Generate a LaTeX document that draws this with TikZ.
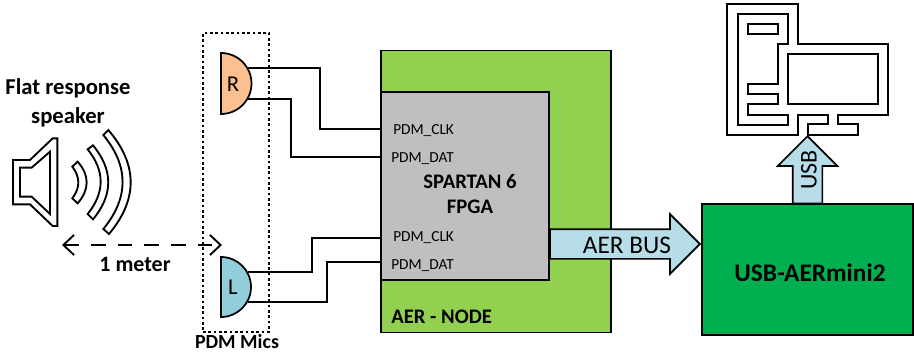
\documentclass[tikz,border=0pt]{standalone}
\usepackage{fontspec}
\setmainfont{Carlito}
\usetikzlibrary{arrows.meta, shapes.arrows}
\definecolor{nodegreen}{HTML}{92D050}
\definecolor{fpgagray}{HTML}{BFBFBF}
\definecolor{usbgreen}{HTML}{00B050}
\definecolor{busblue}{HTML}{B7DDE8}
\definecolor{micblue}{HTML}{92CDDC}
\definecolor{micorange}{HTML}{FAC090}
\tikzset{>={Straight Barb[length=8pt,width=15pt]}}
\tikzset{
  block/.style={draw, line width=1.3pt, inner sep=0pt},
  wire/.style={line width=1.1pt},
  icon/.style={line width=1.4pt, line join=miter},
  busarrow/.style={draw, line width=1.3pt, fill=busblue, single arrow, inner sep=0pt,
    single arrow head extend=11.25pt, single arrow tip angle=90, anchor=tip},
  boldtext/.style={font=\fontsize{16.5}{16.5}\selectfont\bfseries, inner sep=0pt},
  pintext/.style={font=\fontsize{11.5}{11.5}\selectfont, inner sep=0pt, anchor=west},
  mic/.style={draw, line width=1.3pt}
}

\begin{document}
\begin{tikzpicture}[x=0.75pt, y=-0.75pt]
\useasboundingbox (0,0) rectangle (914,353);
% boards
\node (aernode) [block, fill=nodegreen, minimum width=172.5pt, minimum height=211.5pt] at (496,191.5) {};
\node (fpga) [block, fill=fpgagray, minimum width=126pt, minimum height=141pt] at (465,186) {};
\node (usbmini) [block, fill=usbgreen, minimum width=158.25pt, minimum height=98.25pt] at (807.5,269.5) {};
\node (fpgatext) [boldtext, font=\fontsize{15.5}{15.5}\selectfont\bfseries, align=center] at (470,194) {SPARTAN 6\\[3pt]FPGA};
\node (nodetext) [boldtext, font=\fontsize{15.5}{15.5}\selectfont\bfseries, anchor=west] at (391,317) {AER - NODE};
\node (minitext) [boldtext, font=\fontsize{19}{19}\selectfont\bfseries] at (810,273) {USB-AERmini2};
% mics
\draw[mic, fill=micorange] (221,53) arc (-90:90:30.5) -- cycle;
\draw[mic, fill=micblue] (221,257) arc (-90:90:30) -- cycle;
\node (micR) [font=\fontsize{17}{17}\selectfont, inner sep=0pt] at (233,84) {R};
\node (micL) [font=\fontsize{17}{17}\selectfont, inner sep=0pt] at (233,287) {L};
\coordinate (R1) at (248,68);
\coordinate (R2) at (248,99);
\coordinate (L1) at (248,272);
\coordinate (L2) at (248,302);
\coordinate (clkA) at (fpga.west |- 0,129);
\coordinate (datA) at (fpga.west |- 0,157);
\coordinate (clkB) at (fpga.west |- 0,238);
\coordinate (datB) at (fpga.west |- 0,262);
\draw[wire] (R1) -| (320,129) -- (clkA);
\draw[wire] (R2) -| (291,157) -- (datA);
\draw[wire] (L1) -| (312,238) -- (clkB);
\draw[wire] (L2) -| (327,262) -- (datB);
\node (pinA) [pintext] at (393,131) {PDM\_CLK};
\node (pinB) [pintext] at (391,159) {PDM\_DAT};
\node (pinC) [pintext] at (393,238) {PDM\_CLK};
\node (pinD) [pintext] at (391,266) {PDM\_DAT};
\node (mics) [draw, line width=1.2pt, dash pattern=on 2pt off 2pt, minimum width=49.5pt, minimum height=224.25pt] at (236,182.5) {};
\node (micstext) [boldtext, font=\fontsize{15}{15}\selectfont\bfseries] at (237,342) {PDM Mics};
% bus arrows
\coordinate (aertip) at (usbmini.west |- 0,244);
\coordinate (usbtip) at (807.5,135);
\node (aerbus) [busarrow, inner ysep=10.5pt, minimum height=112.5pt] at (aertip) {};
\node (aertext) [font=\fontsize{19}{19}\selectfont, inner sep=0pt] at (627,245) {AER BUS};
\node (usbarrow) [busarrow, inner xsep=10.5pt, shape border rotate=90, minimum height=50.5pt] at (usbtip) {};
\node (usbtext) [font=\fontsize{18}{18}\selectfont, inner sep=0pt, rotate=90] at (809,170) {USB};
% speaker
\node (speakertext) [boldtext, font=\fontsize{17}{17}\selectfont\bfseries, align=center] at (68,102.5) {Flat response\\[5pt]speaker};
\begin{scope}[shift={(0,60)}, x=0.25pt, y=-0.25pt]
\draw[icon] (39,300) -- (90,300) -- (158,235) -- (172,235) -- (172,498) -- (158,498) -- (90,433) -- (39,433) -- cycle;
\draw[icon] (60,323) -- (95,323) -- (150,275) -- (150,462) -- (95,410) -- (60,410) -- cycle;
\draw[icon] (233,305) .. controls (269,346) and (269,388) .. (233,430) -- (217,415) .. controls (241,383) and (241,352) .. (217,320) -- cycle;
\draw[icon] (279,256) .. controls (340,330) and (340,404) .. (279,478) -- (263,462) .. controls (315,397) and (315,333) .. (263,268) -- cycle;
\draw[icon] (325,210) .. controls (414,314) and (414,418) .. (327,522) -- (310,507) .. controls (387,413) and (387,319) .. (310,225) -- cycle;
\end{scope}
\coordinate (distA) at (62,245);
\coordinate (distB) at (222,245);
\draw[<->, line width=1.4pt, dash pattern=on 11pt off 9pt] (distA) -- (distB);
\node (metertext) [boldtext] at (135,264) {1 meter};
% computer
\begin{scope}[shift={(690,0)}, x=0.25pt, y=-0.25pt]
\draw[icon] (112,12) -- (324,12) -- (324,131) -- (595,131) -- (595,344) -- (444,344) -- (444,373) -- (505,373) -- (505,404) -- (353,404) -- (353,373) -- (414,373) -- (414,344) -- (324,344) -- (324,404) -- (112,404) -- cycle;
\draw[icon] (143,42) -- (295,42) -- (295,131) -- (265,131) -- (265,252) -- (173,252) -- (173,283) -- (265,283) -- (265,313) -- (173,313) -- (173,344) -- (295,344) -- (295,374) -- (143,374) -- cycle;
\draw[icon] (173,72) rectangle (265,103);
\draw[icon] (295,163) rectangle (565,313);
\end{scope}
\end{tikzpicture}
\end{document}
